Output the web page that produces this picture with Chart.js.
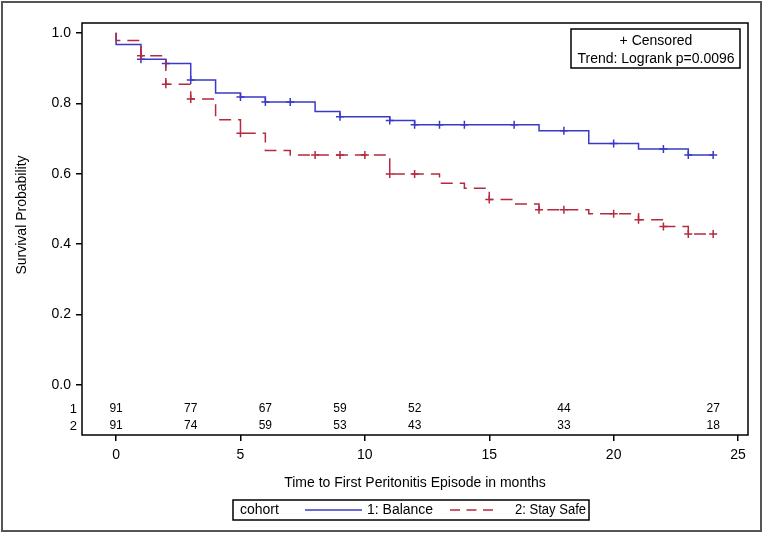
<!DOCTYPE html>
<html>
<head>
<meta charset="utf-8">
<script src="https://cdn.jsdelivr.net/npm/chart.js@4.4.0/dist/chart.umd.min.js"></script>
<style>
  html, body { margin: 0; padding: 0; background: #fff; }
  #wrap { width: 765px; height: 536px; }
</style>
</head>
<body>
<div id="wrap"><canvas id="km" width="765" height="536"></canvas></div>
<script>
// valores (Kaplan-Meier)
const tempoBalance = [0, 0, 1, 2, 3, 4, 5, 6, 8, 9, 11, 12, 17, 19, 21, 23, 24];
const survBalance = [1.0, 0.967, 0.925, 0.913, 0.866, 0.829, 0.818, 0.804, 0.777, 0.762, 0.751, 0.739, 0.722, 0.686, 0.670, 0.653, 0.653];
const censBalance = [1, 2, 3, 5, 6, 7, 9, 11, 12, 13, 14, 16, 18, 20, 22, 23, 24];

const tempoStaySafe = [0, 0, 1, 2, 3, 4, 5, 6, 7, 11, 13, 14, 15, 16, 17, 19, 21, 22, 23, 24];
const survStaySafe = [1.0, 0.978, 0.935, 0.854, 0.8125, 0.753, 0.715, 0.666, 0.653, 0.599, 0.573, 0.559, 0.527, 0.514, 0.498, 0.486, 0.469, 0.450, 0.429, 0.429];
const censStaySafe = [1, 2, 3, 5, 8, 9, 10, 11, 12, 15, 17, 18, 20, 21, 22, 23, 24];

// números em risco
const riscoTempos = [0, 3, 6, 9, 12, 18, 24];
const riscoBalance = [91, 77, 67, 59, 52, 44, 27];
const riscoStaySafe = [91, 74, 59, 53, 43, 33, 18];

const xTicks = [0, 5, 10, 15, 20, 25];
const yTicks = [0, 0.2, 0.4, 0.6, 0.8, 1.0];

const fonte = 'Arial, "Liberation Sans", sans-serif';
const azul = '#3a3ac6';
const vermelho = '#b52a40';

function pontos(tempos, surv) {
  return tempos.map((t, i) => ({ x: t, y: surv[i] }));
}

// valor da curva no tempo t (para posicionar os censurados)
function survEm(tempos, surv, t) {
  let v = surv[0];
  for (let i = 0; i < tempos.length; i++) {
    if (tempos[i] <= t) v = surv[i];
  }
  return v;
}

function censurados(cens, tempos, surv) {
  return cens.map(t => ({ x: t, y: survEm(tempos, surv, t) }));
}

const desenhoExtra = {
  id: 'desenhoExtra',
  beforeDraw(chart) {
    const ctx = chart.ctx;
    ctx.save();
    ctx.fillStyle = '#fff';
    ctx.fillRect(0, 0, chart.width, chart.height);
    ctx.restore();
  },
  afterDraw(chart) {
    const ctx = chart.ctx;
    const a = chart.chartArea;
    const xs = chart.scales.x;
    ctx.save();

    // borda externa
    ctx.strokeStyle = '#555';
    ctx.lineWidth = 2;
    ctx.strokeRect(2, 2, 759, 529);

    // moldura da área do gráfico
    ctx.strokeStyle = '#000';
    ctx.lineWidth = 1.5;
    ctx.strokeRect(a.left, a.top, a.right - a.left, a.bottom - a.top);

    // tabela de números em risco
    ctx.fillStyle = '#000';
    ctx.font = '12px ' + fonte;
    ctx.textAlign = 'center';
    ctx.textBaseline = 'middle';
    riscoTempos.forEach((t, i) => {
      const px = xs.getPixelForValue(t);
      ctx.fillText(String(riscoBalance[i]), px, a.bottom - 26);
      ctx.fillText(String(riscoStaySafe[i]), px, a.bottom - 9);
    });
    ctx.font = '13px ' + fonte;
    ctx.textAlign = 'right';
    ctx.fillText('1', a.left - 5, a.bottom - 26);
    ctx.fillText('2', a.left - 5, a.bottom - 9);

    // títulos dos eixos
    ctx.font = '14px ' + fonte;
    ctx.textAlign = 'center';
    ctx.fillText('Time to First Peritonitis Episode in months', (a.left + a.right) / 2, 483);
    ctx.save();
    ctx.translate(22, 215);
    ctx.rotate(-Math.PI / 2);
    ctx.fillText('Survival Probability', 0, 0);
    ctx.restore();

    // caixa superior direita
    ctx.fillStyle = '#fff';
    ctx.fillRect(571, 29, 169, 39);
    ctx.strokeStyle = '#000';
    ctx.lineWidth = 1.5;
    ctx.strokeRect(571, 29, 169, 39);
    ctx.fillStyle = '#000';
    ctx.font = '14px ' + fonte;
    ctx.fillText('+ Censored', 656, 41);
    ctx.fillText('Trend: Logrank p=0.0096', 656, 59);

    // legenda inferior
    ctx.strokeRect(233, 500, 356, 20);
    ctx.textAlign = 'left';
    ctx.fillText('cohort', 240, 510);
    ctx.strokeStyle = azul;
    ctx.lineWidth = 1.5;
    ctx.beginPath();
    ctx.moveTo(305, 510); ctx.lineTo(362, 510);
    ctx.stroke();
    ctx.fillText('1: Balance', 367, 510, 70);
    ctx.strokeStyle = vermelho;
    ctx.setLineDash([10, 6.5]);
    ctx.beginPath();
    ctx.moveTo(450, 510); ctx.lineTo(493, 510);
    ctx.stroke();
    ctx.setLineDash([]);
    ctx.fillText('2: Stay Safe', 515, 510, 71);

    ctx.restore();
  }
};

const ctxKm = document.getElementById('km').getContext('2d');
const chartKm = new Chart(ctxKm, {
  type: 'line',
  data: {
    datasets: [
      {
        label: '2: Stay Safe',
        data: pontos(tempoStaySafe, survStaySafe),
        stepped: 'before',
        borderColor: vermelho,
        borderWidth: 1.5,
        borderDash: [12, 7],
        pointRadius: 0,
        fill: false,
        order: 1
      },
      {
        label: 'censored 2',
        data: censurados(censStaySafe, tempoStaySafe, survStaySafe),
        showLine: false,
        pointStyle: 'cross',
        pointRadius: 4,
        pointBorderWidth: 1.5,
        borderColor: vermelho,
        order: 0
      },
      {
        label: '1: Balance',
        data: pontos(tempoBalance, survBalance),
        stepped: 'before',
        borderColor: azul,
        borderWidth: 1.5,
        pointRadius: 0,
        fill: false,
        order: 3
      },
      {
        label: 'censored 1',
        data: censurados(censBalance, tempoBalance, survBalance),
        showLine: false,
        pointStyle: 'cross',
        pointRadius: 4,
        pointBorderWidth: 1.5,
        borderColor: azul,
        order: 2
      }
    ]
  },
  options: {
    responsive: false,
    devicePixelRatio: 1,
    animation: false,
    layout: { padding: { left: 0, top: 23, right: 17, bottom: 0 } },
    plugins: {
      legend: { display: false },
      tooltip: { enabled: false }
    },
    scales: {
      x: {
        type: 'linear',
        min: -1.37,
        max: 25.4,
        afterBuildTicks: s => { s.ticks = xTicks.map(v => ({ value: v })); },
        afterFit: s => { s.height = 101; },
        grid: { drawOnChartArea: false, tickLength: 6, color: '#000', lineWidth: 1.5 },
        border: { display: false },
        ticks: { color: '#000', font: { size: 14, family: fonte }, padding: 6, maxRotation: 0 }
      },
      y: {
        type: 'linear',
        min: -0.142,
        max: 1.028,
        afterBuildTicks: s => { s.ticks = yTicks.map(v => ({ value: v })); },
        afterFit: s => { s.width = 82; },
        grid: { drawOnChartArea: false, tickLength: 6, color: '#000', lineWidth: 1.5 },
        border: { display: false },
        ticks: {
          color: '#000',
          font: { size: 14, family: fonte },
          padding: 5,
          callback: v => v.toFixed(1)
        }
      }
    }
  },
  plugins: [desenhoExtra]
});
</script>
</body>
</html>
